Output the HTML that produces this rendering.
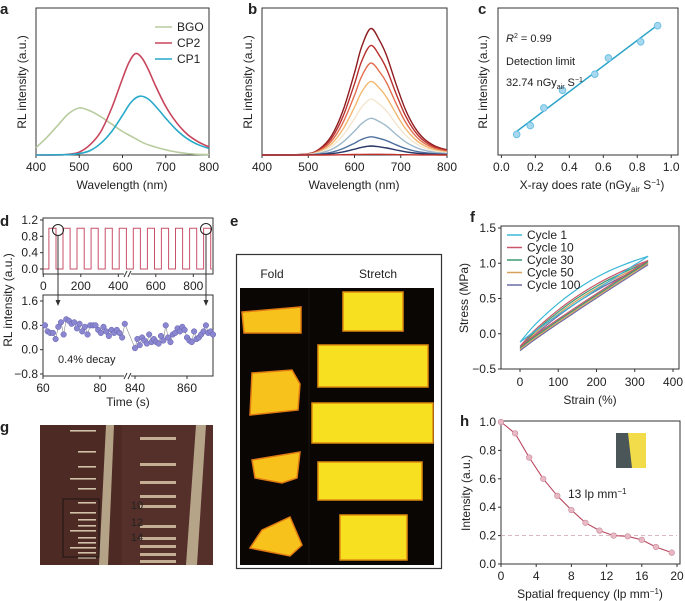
<!DOCTYPE html>
<html><head><meta charset="utf-8">
<style>
html,body{margin:0;padding:0;background:#fff;}
svg{display:block;font-family:"Liberation Sans",Arial,sans-serif;}
text{fill:#222;}
</style></head>
<body>
<svg id="fig" width="685" height="601" viewBox="0 0 685 601" xmlns="http://www.w3.org/2000/svg"></svg>
<script>
// ---------- Panel a data ----------
const aBgoX=[400,425,450,475,500,525,550,575,600,625,650,675,700,725,750,775,800];
const aBgoY=[0.05,0.12,0.2,0.28,0.32,0.30,0.26,0.21,0.16,0.12,0.08,0.055,0.035,0.02,0.01,0.005,0.003];
const aCp2X=[400,450,475,500,525,550,575,600,615,630,645,660,675,700,725,750,775,800];
const aCp2Y=[0,0,0.005,0.02,0.07,0.16,0.32,0.52,0.63,0.69,0.66,0.58,0.48,0.33,0.22,0.14,0.09,0.055];
const aCp1X=[400,475,500,525,550,575,600,620,640,660,680,700,725,750,775,800];
const aCp1Y=[0,0.003,0.01,0.03,0.08,0.16,0.27,0.36,0.40,0.38,0.32,0.25,0.17,0.11,0.07,0.045];
const aTicks=[400,500,600,700,800];
// ---------- Panel b data ----------
const bX=[400,450,500,525,550,575,600,615,635,655,670,690,710,730,750,775,800];
const bShape=[0,0,0.01,0.05,0.15,0.35,0.65,0.85,1,0.9,0.78,0.56,0.36,0.22,0.13,0.07,0.04];
const bPeaks=[0.86,0.745,0.625,0.50,0.38,0.25,0.124,0.061,0.005];
const bColors=["#8e1b1f","#b8302f","#e26e4f","#f3b870","#f4e6cf","#9db9cb","#4d6f9e","#2a3768","#c0302b"];
// ---------- Panel c data ----------
const cX=[0.09,0.17,0.25,0.36,0.55,0.63,0.82,0.92];
const cY=[0.14,0.20,0.32,0.44,0.55,0.66,0.77,0.88];
const cTicks=[0,0.2,0.4,0.6,0.8,1.0];
// ---------- Panel d data ----------
const dOnStarts=[30,105,180,255,330,405,480,555,630,705,780,855];
const dOnWidth=38;
const dTopTicks=[0,200,400,600,800];
const dTopYTicks=[0,0.4,0.8,1.2];
const dLeftY=[0.8,0.6,0.55,0.55,0.35,0.75,0.9,0.5,1.0,0.95,0.85,0.9,0.7,0.85,0.6,0.75,0.5,0.8,0.8,0.8,0.65,0.55,0.75,0.6,0.45,0.65,0.55,0.65,0.55,0.4,0.85];
const dRightY=[0.05,0.35,0.15,0.4,0.3,0.2,0.5,0.25,0.35,0.25,0.2,0.45,0.3,0.8,0.4,0.25,0.5,0.55,0.7,0.6,0.75,0.65,0.4,0.3,0.25,0.6,0.35,0.4,0.5,0.6,0.8,0.55,0.6,0.5];
const dBotYTicks=[-0.8,0,0.8,1.6];
// ---------- Panel f data ----------
const fNames=["Cycle 1","Cycle 10","Cycle 30","Cycle 50","Cycle 100"];
const fColors=["#3bb8d8","#c9566a","#3a9a72","#d8a05e","#6b6aa6"];
const fStartY=[-0.12,-0.18,-0.2,-0.22,-0.24];
const fEndY=[1.1,1.04,1.02,1.0,0.98];
const fBulge=[0.14,0.1,0.09,0.08,0.07];
const fTicksX=[0,100,200,300,400];
const fTicksY=[-0.5,0,0.5,1.0,1.5];
// ---------- Panel h data ----------
const hX=[0,1.6,3.2,4.8,6.4,8,9.6,11.2,12.8,14.4,16,17.6,19.4];
const hY=[1.0,0.92,0.75,0.6,0.48,0.38,0.29,0.235,0.2,0.195,0.17,0.12,0.08];
const hTicksX=[0,4,8,12,16,20];
const hTicksY=[0,0.2,0.4,0.6,0.8,1.0];

const svg=document.getElementById('fig');
const NS="http://www.w3.org/2000/svg";
function el(tag,attrs,parent){const e=document.createElementNS(NS,tag);for(const k in attrs)e.setAttribute(k,attrs[k]);(parent||svg).appendChild(e);return e;}
function txt(x,y,s,size,anchor,parent,extra){const t=el('text',Object.assign({x:x,y:y,'font-size':size||11,'text-anchor':anchor||'middle'},extra||{}),parent);t.textContent=s;return t;}
function lin(d0,d1,r0,r1){return v=>r0+(v-d0)/(d1-d0)*(r1-r0);}
function smooth(pts){let d="M"+pts[0][0].toFixed(1)+","+pts[0][1].toFixed(1);for(let i=0;i<pts.length-1;i++){const p0=pts[i-1]||pts[i],p1=pts[i],p2=pts[i+1],p3=pts[i+2]||p2;const c1=[p1[0]+(p2[0]-p0[0])/6,p1[1]+(p2[1]-p0[1])/6],c2=[p2[0]-(p3[0]-p1[0])/6,p2[1]-(p3[1]-p1[1])/6];d+=" C"+c1[0].toFixed(1)+","+c1[1].toFixed(1)+" "+c2[0].toFixed(1)+","+c2[1].toFixed(1)+" "+p2[0].toFixed(1)+","+p2[1].toFixed(1);}return d;}
function box(x0,y0,x1,y1,g){return el('rect',{x:x0,y:y0,width:x1-x0,height:y1-y0,fill:'none',stroke:'#333','stroke-width':1},g);}
function xTicks(ticks,sx,y,g,fmt,ly){ticks.forEach(t=>{const x=sx(t);el('line',{x1:x,x2:x,y1:y,y2:y+3,stroke:'#333'},g);const l=txt(x,ly||y+14,fmt?fmt(t):String(t),12,'middle',g);});}
function yTicks(ticks,sy,x,g,fmt){ticks.forEach(t=>{const y=sy(t);el('line',{x1:x-3,x2:x,y1:y,y2:y,stroke:'#333'},g);const l=txt(x-5,y+4,fmt?fmt(t):String(t),12,'end',g);});}
function panelLabel(x,y,s){const t=txt(x,y,s,15,'start',svg,{'font-weight':'bold'});}
function yTitle(x,y,s,g){const t=txt(x,y,s,12,'middle',g,{transform:'rotate(-90 '+x+' '+y+')'});return t;}
function xTitle(x,y,s,g){const t=txt(x,y,s,12,'middle',g);return t;}
const fmt1=v=>v.toFixed(1);
function fmtM(v){return (v<0?'\u2212':'')+Math.abs(v).toFixed(1);}

// ===== Panel a =====
(function(){
const g=el('g',{});
panelLabel(0,14,'a');
const sx=lin(400,800,36,209),sy=lin(0,1,155,8);
box(36,8,209,155,g);
xTicks(aTicks,sx,155,g,null,171);
yTitle(26,82,'RL intensity (a.u.)',g);
xTitle(122,189,'Wavelength (nm)',g);
const series=[[aBgoX,aBgoY,'#b9cc9f','BGO'],[aCp2X,aCp2Y,'#c8455c','CP2'],[aCp1X,aCp1Y,'#27a9c9','CP1']];
series.forEach((s,i)=>{const p=el('path',{d:smooth(s[0].map((x,j)=>[sx(x),sy(s[1][j])])),fill:'none',stroke:s[2],'stroke-width':1.6},g);
const ly=27+i*16;const ll=el('line',{x1:155,x2:172,y1:ly,y2:ly,stroke:s[2],'stroke-width':1.6},g);
const lt=txt(177,ly+4,s[3],12,'start',g);});
})();

// ===== Panel b =====
(function(){
const g=el('g',{});
panelLabel(248,14,'b');
const sx=lin(400,800,262,447),sy=lin(0,1,155,8);
box(262,8,447,155,g);
xTicks(aTicks,sx,155,g,null,171);
yTitle(252,82,'RL intensity (a.u.)',g);
xTitle(354,189,'Wavelength (nm)',g);
bPeaks.forEach((pk,i)=>{const p=el('path',{d:smooth(bX.map((x,j)=>[sx(x),sy(bShape[j]*pk)])),fill:'none',stroke:bColors[i],'stroke-width':1.4},g);});
})();

// ===== Panel c =====
(function(){
const g=el('g',{});
panelLabel(478,14,'c');
const sx=lin(-0.02,1.04,498,678),sy=lin(0,1,155,8);
box(498,8,678,155,g);
xTicks(cTicks,sx,155,g,fmt1,171);
yTitle(487,82,'RL intensity (a.u.)',g);
const xt=txt(592,189,'X-ray does rate (nGy',12,'middle',g);
const s1=el('tspan',{'font-size':8,dy:3},xt);s1.textContent='air';const s2=el('tspan',{dy:-3},xt);s2.textContent=' S';const s3=el('tspan',{'font-size':8,dy:-4},xt);s3.textContent='\u22121';const s4=el('tspan',{dy:4},xt);s4.textContent=')';
const n=cX.length,mx=cX.reduce((a,b)=>a+b)/n,my=cY.reduce((a,b)=>a+b)/n;let num=0,den=0;cX.forEach((x,i)=>{num+=(x-mx)*(cY[i]-my);den+=(x-mx)*(x-mx);});const m=num/den,b=my-m*mx;
const x0=cX[0],x1=cX[n-1];const fl=el('line',{x1:sx(x0),y1:sy(m*x0+b),x2:sx(x1),y2:sy(m*x1+b),stroke:'#2aa3c8','stroke-width':1.5},g);
cX.forEach((x,i)=>{const c=el('circle',{cx:sx(x),cy:sy(cY[i]),r:3.3,fill:'#a8d8ee',stroke:'#6cc0e4','stroke-width':1},g);});
const t1=txt(506,42,'R',11,'start',g,{'font-style':'italic'});const r2=el('tspan',{'font-size':7,dy:-4,'font-style':'normal'},t1);r2.textContent='2';const r3=el('tspan',{dy:4,'font-style':'normal'},t1);r3.textContent=' = 0.99';
const t2=txt(506,65,'Detection limit',11,'start',g);
const t3=txt(506,86,'32.74 nGy',11,'start',g);const a1=el('tspan',{'font-size':7,dy:3},t3);a1.textContent='air';const a2=el('tspan',{dy:-3,dx:3},t3);a2.textContent='S';const a3=el('tspan',{'font-size':7,dy:-4},t3);a3.textContent='\u22121';
})();

// ===== Panel d =====
(function(){
const g=el('g',{});
panelLabel(0,226,'d');
const sx=lin(0,800,43.3,193.3),sy=lin(0,1.2,269,220);
box(43,218,213,274,g);
const pts=[[0,0]];dOnStarts.forEach(s=>{pts.push([s,0],[s,1],[s+dOnWidth,1],[s+dOnWidth,0]);});pts.push([900,0]);
const wp=el('polyline',{points:pts.map(p=>sx(Math.min(p[0],899)).toFixed(1)+','+sy(p[1]).toFixed(1)).join(' '),fill:'none',stroke:'#c8506a','stroke-width':1},g);
xTicks(dTopTicks,sx,274,g,null,290);
yTicks(dTopYTicks,sy,43,g,fmt1);
const byS=lin(-0.8,1.6,374,301);
const sxL=lin(60,80,43,100),sxR=lin(840,860,135,187);
box(43,295,213,376,g);
[[60,sxL],[80,sxL],[840,sxR],[860,sxR]].forEach(t=>{const x=t[1](t[0]);el('line',{x1:x,x2:x,y1:376,y2:379,stroke:'#333'},g);const l=txt(x,392,String(t[0]),12,'middle',g);});
yTicks(dBotYTicks,byS,43,g,fmtM);
[274,376].forEach(y=>{el('rect',{x:124,y:y-3,width:7,height:6,fill:'#fff'},g);el('line',{x1:124,y1:y+3,x2:127,y2:y-3,stroke:'#333'},g);el('line',{x1:128,y1:y+3,x2:131,y2:y-3,stroke:'#333'},g);});
const lp=dLeftY.map((v,i)=>[sxL(60.7+i*(28/(dLeftY.length-1))),byS(v)]);
const rp=dRightY.map((v,i)=>[sxR(840+i*(30/(dRightY.length-1))),byS(v)]);
const all=lp.concat(rp);
const pl=el('polyline',{points:all.map(p=>p[0].toFixed(1)+','+p[1].toFixed(1)).join(' '),fill:'none',stroke:'#888','stroke-width':0.6},g);
all.forEach(p=>{const c=el('circle',{cx:p[0],cy:p[1],r:2.8,fill:'#8a86d0',stroke:'#6662b0','stroke-width':0.5},g);});
const dt=txt(58,363,'0.4% decay',11,'start',g);
yTitle(12,300,'RL intensity (a.u.)',g);
xTitle(128,406,'Time (s)',g);
[[58,230],[206,229]].forEach(c=>{el('circle',{cx:c[0],cy:c[1],r:5.5,fill:'none',stroke:'#222','stroke-width':1},g);el('line',{x1:c[0],y1:c[1]+5.5,x2:c[0],y2:302,stroke:'#333','stroke-width':1},g);el('path',{d:'M'+(c[0]-2.5)+',300 L'+(c[0]+2.5)+',300 L'+c[0]+',306 Z',fill:'#333'},g);});
})();

// ===== Panel e =====
(function(){
const g=el('g',{});
panelLabel(230,226,'e');
el('rect',{x:236.5,y:254.5,width:205,height:314,fill:'#fff',stroke:'#333','stroke-width':1.2},g);
const f=txt(272,278,'Fold',12,'middle',g);
const s=txt(378,278,'Stretch',12,'middle',g);
el('rect',{x:240,y:288,width:194,height:277,fill:'#0a0603'},g);
el('line',{x1:309,y1:288,x2:309,y2:565,stroke:'#1c140c','stroke-width':1},g);
const st=[[343,292,403,331],[318,345,428,387],[312,403,433,443],[318,462,422,500],[340,515,407,560]];
st.forEach(r=>{const e=el('rect',{x:r[0],y:r[1],width:r[2]-r[0],height:r[3]-r[1],fill:'#f6e020',stroke:'#e08a10','stroke-width':1.5},g);});
const fd=['M242,312 L301,307 L301,333 L244,333 Z','M252,373 L292,370 L300,384 L298,410 L250,415 Z','M252,460 L300,452 L297,478 L282,483 L255,478 Z','M262,530 L290,517 L302,545 L290,556 L250,548 Z'];
fd.forEach(d=>{const e=el('path',{d:d,fill:'#f7c21c',stroke:'#e07a12','stroke-width':1.5},g);});
})();

// ===== Panel f =====
(function(){
const g=el('g',{});
panelLabel(470,222,'f');
const sx=lin(0,400,520,673),sy=lin(-0.5,1.5,369,228);
box(501,226,679,369,g);
xTicks(fTicksX,sx,369,g,null,386);
yTicks(fTicksY,sy,501,g,fmtM);
yTitle(468,298,'Stress (MPa)',g);
xTitle(590,404,'Strain (%)',g);
for(let i=fNames.length-1;i>=0;i--){
 const y0=fStartY[i],y1=fEndY[i],bu=fBulge[i];const up=[],lo=[];
 for(let k=0;k<=10;k++){const t=k/10;const x=t*335;const base=y0+(y1-y0)*Math.pow(t,0.85);up.push([sx(x),sy(base+bu*Math.sin(Math.PI*t))]);lo.push([sx(335-x),sy(y0+(y1-y0)*Math.pow(1-t,0.95))]);}
 const p=el('path',{d:smooth(up)+' '+smooth(lo).replace('M','L'),fill:'none',stroke:fColors[i],'stroke-width':1.2},g);
}
fNames.forEach((n,i)=>{const y=235+i*12.5;const l=el('line',{x1:507,x2:522,y1:y,y2:y,stroke:fColors[i],'stroke-width':1.5},g);const t=txt(527,y+4,n,12,'start',g);});
})();

// ===== Panel g =====
(function(){
const g=el('g',{});
panelLabel(0,432,'g');
el('rect',{x:40,y:425,width:173,height:140,fill:'#4e2a24'},g);
el('rect',{x:122,y:425,width:91,height:140,fill:'#55302a'},g);
el('path',{d:'M106,425 L114,425 L108,565 L99,565 Z',fill:'#c8b89a',opacity:0.85},g);
el('path',{d:'M196,425 L206,425 L197,565 L186,565 Z',fill:'#c8b89a',opacity:0.85},g);
[430,451,466,478,488,502,512,519,525,530,537,542,547,552,557].forEach((y,i)=>{el('rect',{x:(i%3==0?70:78),y:y,width:(i%3==0?26:18),height:1.6,fill:'#e8dcc0',opacity:0.85},g);});
[437,463,481,495,505,525,537,545,553,560].forEach(y=>{el('rect',{x:140,y:y,width:36,height:3,fill:'#e0d0b0',opacity:0.8},g);});
el('rect',{x:63,y:499,width:36,height:58,fill:'none',stroke:'#111','stroke-width':0.8},g);
[['10',505],['12',522],['14',537]].forEach(l=>{const t=txt(137,l[1]+4,l[0],11,'middle',g);t.setAttribute('fill','#111');});
})();

// ===== Panel h =====
(function(){
const g=el('g',{});
panelLabel(460,426,'h');
const sx=lin(0,20,501,677),sy=lin(0,1,564,422);
box(501,421,680,564,g);
xTicks(hTicksX,sx,564,g,null,580);
yTicks(hTicksY,sy,501,g,fmt1);
yTitle(470,493,'Intensity (a.u.)',g);
const xt=xTitle(590,598,'Spatial frequency (lp mm',g);const e1=el('tspan',{'font-size':8,dy:-4},xt);e1.textContent='\u22121';const e2=el('tspan',{dy:4},xt);e2.textContent=')';
const dl=el('line',{x1:501,x2:677,y1:sy(0.2),y2:sy(0.2),stroke:'#c9a0a8','stroke-width':0.8,'stroke-dasharray':'4,3'},g);
const pl=el('polyline',{points:hX.map((x,i)=>sx(x).toFixed(1)+','+sy(hY[i]).toFixed(1)).join(' '),fill:'none',stroke:'#b8455e','stroke-width':1.1},g);
hX.forEach((x,i)=>{const c=el('circle',{cx:sx(x),cy:sy(hY[i]),r:2.8,fill:'#e8b8c4',stroke:'#c88898','stroke-width':0.6},g);});
const t=txt(568,498,'13 lp mm',12,'start',g);const s=el('tspan',{'font-size':8,dy:-4},t);s.textContent='\u22121';
el('rect',{x:616,y:433,width:30,height:35,fill:'#f3dc4a'},g);
el('path',{d:'M616,433 L628,433 L632,468 L616,468 Z',fill:'#4a5658'},g);
})();
</script>
</body></html>
